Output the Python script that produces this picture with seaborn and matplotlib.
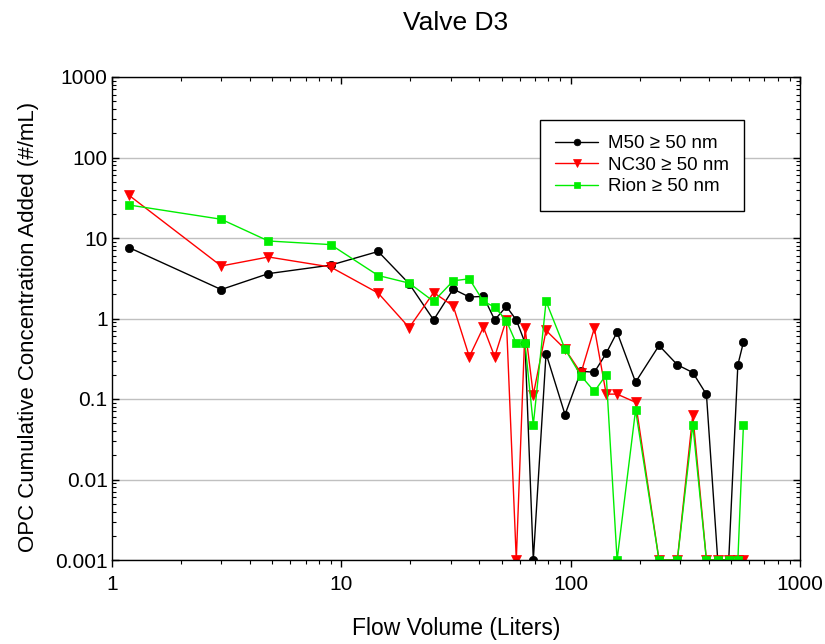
import numpy as np
import pandas as pd
import seaborn as sns
import matplotlib
matplotlib.use("Agg")
import matplotlib.pyplot as plt
from matplotlib.ticker import LogLocator, FixedLocator, FuncFormatter, NullFormatter

# ---- data ----
flow_volume = [1.19, 3.0, 4.82, 9.0, 14.5, 19.8, 25.3, 30.8, 36.2, 41.7, 46.7, 52.5,
               58.0, 63.3, 68.8, 78.2, 94.6, 111, 127, 143, 159.5, 192, 243, 292,
               341, 391, 438, 489, 536, 567]
m50 = [7.6, 2.29, 3.61, 4.6, 6.8, 2.7, 0.96, 2.32, 1.85, 1.88, 0.96, 1.41,
       0.96, 0.5, 0.001, 0.367, 0.064, 0.221, 0.215, 0.37, 0.676, 0.162, 0.462, 0.266,
       0.213, 0.114, 0.001, 0.001, 0.266, 0.509]
nc30 = [33.9, 4.49, 5.81, 4.36, 2.07, 0.77, 2.1, 1.43, 0.335, 0.78, 0.335, 0.97,
        0.001, 0.77, 0.113, 0.71, 0.417, 0.21, 0.76, 0.115, 0.115, 0.091, 0.001, 0.001,
        0.064, 0.001, 0.001, 0.001, 0.001, 0.001]
rion = [25.7, 17.1, 9.18, 8.28, 3.42, 2.75, 1.63, 2.94, 3.11, 1.63, 1.39, 0.94,
        0.49, 0.49, 0.048, 1.63, 0.417, 0.194, 0.124, 0.2, 0.001, 0.073, 0.001, 0.001,
        0.048, 0.001, 0.001, 0.001, 0.001, 0.048]
series_names = ["M50 \u2265 50 nm", "NC30 \u2265 50 nm", "Rion \u2265 50 nm"]
y_ticks = [0.001, 0.01, 0.1, 1, 10, 100, 1000]
x_ticks = [1, 10, 100, 1000]

sns.set_style("white")
plt.rcParams['font.family'] = ['Liberation Sans', 'DejaVu Sans']
plt.rcParams['text.color'] = 'black'
plt.rcParams['axes.labelcolor'] = 'black'

fig = plt.figure(figsize=(8.25, 6.44), dpi=100)
ax = fig.add_axes([111.7/825, 1-560/644, (800-111.7)/825, (560-77)/644])

styles = [
    (m50, "black", "o", 6.0),
    (nc30, "#ff0000", "v", 6.5),
    (rion, "#00ee00", "s", 5.5),
]
for (vals, col, mk, ms), name in zip(styles, series_names):
    df = pd.DataFrame({"x": flow_volume, "y": vals})
    sns.lineplot(data=df, x="x", y="y", ax=ax, color=col, marker=mk,
                 markersize=ms, markeredgecolor=col, markeredgewidth=0.5,
                 linewidth=1.0, label=name, sort=False, estimator=None)

ax.set_xscale("log")
ax.set_yscale("log")
ax.set_xlim(1, 1000)
ax.set_ylim(0.001, 1000)

fmt = FuncFormatter(lambda v, p: f"{v:g}")
ax.xaxis.set_major_locator(FixedLocator(x_ticks))
ax.yaxis.set_major_locator(FixedLocator(y_ticks))
ax.xaxis.set_minor_locator(LogLocator(base=10, subs=np.arange(2, 10), numticks=20))
ax.yaxis.set_minor_locator(LogLocator(base=10, subs=np.arange(2, 10), numticks=20))
ax.xaxis.set_major_formatter(fmt)
ax.yaxis.set_major_formatter(fmt)
ax.xaxis.set_minor_formatter(NullFormatter())
ax.yaxis.set_minor_formatter(NullFormatter())

ax.grid(False)
ax.yaxis.grid(True, which="major", color="#c0c0c0", linewidth=1.0)
ax.set_axisbelow(True)

for s in ax.spines.values():
    s.set_visible(True)
    s.set_color("black")
    s.set_linewidth(1.0)

ax.tick_params(axis="y", which="both", direction="in", left=True, right=True,
               colors="black", labelsize=15, labelcolor="black")
ax.tick_params(axis="y", which="major", length=5, width=1, pad=3)
ax.tick_params(axis="y", which="minor", length=3, width=0.8)
ax.tick_params(axis="x", which="both", direction="out", bottom=True, top=False,
               colors="black", labelsize=15, labelcolor="black")
ax.tick_params(axis="x", which="major", length=5, width=1, pad=6)
ax.tick_params(axis="x", which="minor", length=3, width=0.8)
# inward ticks on top
secx = ax.secondary_xaxis("top")
secx.xaxis.set_major_locator(FixedLocator(x_ticks))
secx.xaxis.set_minor_locator(LogLocator(base=10, subs=np.arange(2, 10), numticks=20))
secx.xaxis.set_major_formatter(NullFormatter())
secx.xaxis.set_minor_formatter(NullFormatter())
secx.tick_params(which="both", direction="in", colors="black")
secx.tick_params(which="major", length=5, width=1)
secx.tick_params(which="minor", length=3, width=0.8)
secx.spines["top"].set_visible(False)

ax.set_xlabel("Flow Volume (Liters)", fontsize=16.5, labelpad=16)
ax.set_ylabel("OPC Cumulative Concentration Added (#/mL)", fontsize=16)
ax.yaxis.set_label_coords(-0.105, 0.483)
ax.set_title("Valve D3", fontsize=19, pad=34)

leg = ax.legend(loc="upper left", bbox_to_anchor=(0.622, 0.911), borderaxespad=0,
                frameon=True, fancybox=False, edgecolor="black", framealpha=1,
                fontsize=13.5, handlelength=2.3, handletextpad=0.5,
                borderpad=0.82, labelspacing=0.23, markerscale=0.8)
leg.get_frame().set_linewidth(1.0)

fig.savefig("out.png", dpi=100)
